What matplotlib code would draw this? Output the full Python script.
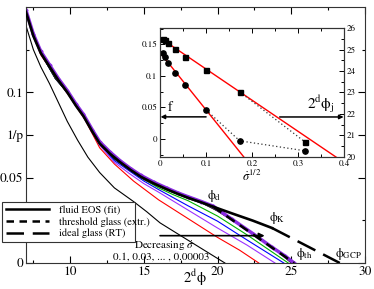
import matplotlib
matplotlib.use('Agg')
import matplotlib.pyplot as plt
from matplotlib.ticker import MultipleLocator, FixedLocator, FixedFormatter
from matplotlib.lines import Line2D

plt.rcParams['font.family'] = ['STIXGeneral', 'DejaVu Serif']
plt.rcParams['mathtext.fontset'] = 'stix'

# ---------------- data (main panel) ----------------
eos_x = [7.0, 7.5, 8.0, 8.6, 9.2, 9.8, 10.4, 10.9, 11.5, 12.0, 12.7, 13.4, 14.1,
         14.8, 15.7, 16.6, 17.3, 18.0, 18.9, 19.7, 21.0, 22.4, 23.7]
eos_y = [0.147, 0.133, 0.123, 0.115, 0.107, 0.100, 0.092, 0.086, 0.077, 0.070,
         0.064, 0.0590, 0.0545, 0.0505, 0.0465, 0.0430, 0.0405, 0.0382, 0.0355,
         0.0330, 0.0290, 0.0248, 0.0205]

thr_x = [19.7, 25.2]
thr_y = [0.0330, 0.0]
ideal_x = [23.7, 28.3]
ideal_y = [0.0205, 0.0]

rate_labels = ['0.1', '0.03', '0.01', '0.003', '0.001', '0.0003', '0.0001', '0.00003']
sim_x = {
    '0.1': [7.0, 7.5, 8.0, 8.6, 9.2, 9.8, 10.5, 11.2, 12.0, 13.0, 14.3, 15.2, 16.1, 17.5, 19.0, 20.5],
    '0.03': [7.0, 8.0, 9.0, 10.0, 11.0, 12.0, 13.0, 14.3, 16.0, 18.0, 20.0, 21.5, 22.8],
    '0.01': [7.0, 8.0, 9.0, 10.0, 11.0, 12.0, 13.0, 14.0, 15.0, 16.0, 18.0, 20.0, 22.0, 23.9],
    '0.003': [7.0, 8.0, 9.0, 10.0, 11.0, 12.0, 13.0, 14.0, 15.0, 16.0, 18.0, 20.0, 22.0, 24.5],
    '0.001': [7.0, 8.0, 9.0, 10.0, 11.0, 12.0, 13.0, 14.0, 15.0, 16.0, 17.0, 18.0, 20.0, 22.0, 24.8],
    '0.0003': [7.0, 8.0, 9.0, 10.0, 11.0, 12.0, 13.0, 14.0, 15.0, 16.0, 17.0, 18.0, 19.0, 20.0, 22.0, 24.0, 25.0],
    '0.0001': [7.0, 8.0, 9.0, 10.0, 11.0, 12.0, 13.0, 14.0, 15.0, 16.0, 17.0, 18.0, 19.0, 19.7, 22.0, 24.0, 25.1],
    '0.00003': [7.0, 7.5, 8.0, 8.6, 9.2, 9.8, 10.4, 10.9, 11.5, 12.0, 12.7, 13.4, 14.1, 14.8,
                15.7, 16.6, 17.3, 18.0, 18.9, 19.7, 21.0, 22.4, 23.7, 24.6, 25.2],
}
sim_y = {
    '0.1': [0.139, 0.125, 0.115, 0.105, 0.094, 0.083, 0.072, 0.062, 0.053, 0.044, 0.036, 0.030, 0.0235, 0.016, 0.008, 0.0],
    '0.03': [0.146, 0.122, 0.109, 0.097, 0.084, 0.0675, 0.058, 0.048, 0.037, 0.026, 0.015, 0.0075, 0.0],
    '0.01': [0.148, 0.123, 0.108, 0.098, 0.085, 0.069, 0.059, 0.0525, 0.0465, 0.0415, 0.031, 0.0205, 0.0105, 0.0],
    '0.003': [0.147, 0.123, 0.108, 0.098, 0.085, 0.070, 0.060, 0.054, 0.048, 0.043, 0.0335, 0.0245, 0.0135, 0.0],
    '0.001': [0.147, 0.123, 0.108, 0.098, 0.085, 0.070, 0.061, 0.055, 0.049, 0.044, 0.040, 0.0365, 0.0275, 0.0165, 0.0],
    '0.0003': [0.147, 0.123, 0.108, 0.098, 0.085, 0.070, 0.061, 0.055, 0.049, 0.045, 0.0413, 0.0378, 0.0348, 0.0305, 0.0195, 0.0075, 0.0],
    '0.0001': [0.147, 0.123, 0.108, 0.098, 0.085, 0.070, 0.061, 0.055, 0.049, 0.045, 0.0415, 0.038, 0.035, 0.032, 0.0198, 0.0078, 0.0],
    '0.00003': [0.148, 0.134, 0.124, 0.116, 0.108, 0.101, 0.093, 0.087, 0.078, 0.071, 0.065, 0.0598,
                0.0553, 0.0513, 0.0472, 0.0437, 0.0411, 0.0388, 0.0360, 0.0333, 0.0255, 0.0172,
                0.0092, 0.0040, 0.0],
}
sim_colors = ['black', 'red', '#9b30ff', 'blue', '#00b000', '#1a1a1a', '#303030', '#8a2be2']

# ---------------- data (inset) ----------------
sqrt_rate = [0.0055, 0.01, 0.0173, 0.0316, 0.0548, 0.1, 0.173, 0.316]
f_vals = [0.136, 0.130, 0.121, 0.104, 0.086, 0.046, -0.003, -0.019]
phij_vals = [25.50, 25.45, 25.29, 25.02, 24.66, 24.06, 23.03, 20.68]
fit_f_x = [0.0, 0.2]
fit_f_y = [0.137, -0.045]
fit_phi_x = [0.0, 0.4]
fit_phi_y = [25.54, 19.74]

# ---------------- figure ----------------
fig = plt.figure(figsize=(3.74, 2.89), dpi=100)
ax = fig.add_axes([0.0695, 0.090, 0.906, 0.886])

for lab, col in zip(rate_labels, sim_colors):
    if lab == '0.00003':
        ax.plot(sim_x[lab], sim_y[lab], color=col, lw=2.5, zorder=2,
                marker='D', markersize=1.5, markevery=1)
    else:
        ax.plot(sim_x[lab], sim_y[lab], color=col, lw=0.8, zorder=2)

ax.plot(eos_x, eos_y, color='black', lw=1.9, zorder=3)
ax.plot(thr_x, thr_y, color='black', lw=1.8, dashes=(4, 2.5), zorder=3)
ax.plot(ideal_x, ideal_y, color='black', lw=1.8, dashes=(8, 3.5), zorder=3)

ax.set_xlim(7, 30)
ax.set_ylim(0, 0.15)
ax.xaxis.set_major_locator(MultipleLocator(5))
ax.xaxis.set_minor_locator(MultipleLocator(2.5))
ax.yaxis.set_major_locator(FixedLocator([0, 0.05, 0.075, 0.1]))
ax.yaxis.set_major_formatter(FixedFormatter(['0', '0.05', '1/p', '0.1']))
ax.yaxis.set_minor_locator(FixedLocator([0.025, 0.125]))
ax.tick_params(which='both', direction='in', top=True, right=True, labelsize=9.5)
ax.tick_params(which='major', length=5, width=0.8)
ax.tick_params(which='minor', length=2.5, width=0.8)
ax.tick_params(axis='y', pad=2)
ax.tick_params(axis='x', pad=2)
ax.set_xlabel(r'$2^{\mathrm{d}}\mathrm{\phi}$', fontsize=10.5, labelpad=-7)
for s in ax.spines.values():
    s.set_linewidth(0.8)
    s.set_color('#333333')

# annotations main
ax.text(19.3, 0.0345, r'$\mathrm{\phi_{d}}$', fontsize=9, ha='left', va='bottom')
ax.text(23.5, 0.0215, r'$\mathrm{\phi_{K}}$', fontsize=9, ha='left', va='bottom')
ax.text(25.3, 0.0005, r'$\mathrm{\phi_{th}}$', fontsize=9, ha='left', va='bottom')
ax.text(28.0, 0.0005, r'$\mathrm{\phi_{GCP}}$', fontsize=9, ha='left', va='bottom')
ax.annotate('', xy=(23.2, 0.0160), xytext=(16.1, 0.0160),
            arrowprops=dict(arrowstyle='-|>', color='black', lw=1.2,
                            mutation_scale=8, shrinkA=0, shrinkB=0), zorder=6)
ax.text(16.4, 0.0100, r'Decreasing $\dot{\sigma}$', fontsize=8, ha='center', va='center')
ax.text(16.2, 0.0036, '0.1, 0.03, ... , 0.00003', fontsize=8, ha='center', va='center')

handles = [Line2D([], [], color='black', lw=1.8),
           Line2D([], [], color='black', lw=1.8, dashes=(3, 2.2)),
           Line2D([], [], color='black', lw=1.8, dashes=(7, 3.5))]
labels = ['fluid EOS (fit)', 'threshold glass (extr.)', 'ideal glass (RT)']
leg = ax.legend(handles, labels, loc='lower left',
                bbox_to_anchor=(0.005, 0.163, 0.356, 0.131),
                bbox_transform=fig.transFigure, mode='expand',
                fontsize=7.5, frameon=True, fancybox=False, edgecolor='#333333',
                framealpha=1, handlelength=4.2, handletextpad=0.9,
                borderpad=0.35, labelspacing=0.2, borderaxespad=0)
leg.get_frame().set_linewidth(0.8)
leg.set_zorder(10)

# ---------------- inset ----------------
ax2 = fig.add_axes([0.428, 0.457, 0.492, 0.446])
ax3 = ax2.twinx()
ax2.set_xlim(0, 0.4)
ax2.set_ylim(-0.0286, 0.176)
ax3.set_ylim(20, 26)

ax2.plot(fit_f_x, fit_f_y, color='red', lw=1.0, zorder=2)
ax3.plot(fit_phi_x, fit_phi_y, color='red', lw=1.0, zorder=2)
ax2.plot(sqrt_rate[5:], f_vals[5:], color='#333333', lw=0.9, ls=(0, (1, 2)), zorder=2)
ax3.plot(sqrt_rate[6:], phij_vals[6:], color='#333333', lw=0.9, ls=(0, (1, 2)), zorder=2)
ax2.plot(sqrt_rate, f_vals, 'o', color='black', markersize=3.8, zorder=3)
ax3.plot(sqrt_rate, phij_vals, 's', color='black', markersize=3.6, zorder=3)

ax2.annotate('', xy=(0.001, 0.035), xytext=(0.1, 0.035),
             arrowprops=dict(arrowstyle='-|>', color='black', lw=1.1,
                             mutation_scale=6, shrinkA=0, shrinkB=0))
ax2.text(0.022, 0.040, 'f', fontsize=10, ha='center', va='bottom')
ax3.annotate('', xy=(0.399, 21.86), xytext=(0.26, 21.86),
             arrowprops=dict(arrowstyle='-|>', color='black', lw=1.1,
                             mutation_scale=6, shrinkA=0, shrinkB=0))
ax3.text(0.35, 21.95, r'$2^{\mathrm{d}}\mathrm{\phi_{j}}$', fontsize=11, ha='center', va='bottom')

ax2.xaxis.set_major_locator(MultipleLocator(0.1))
ax2.xaxis.set_minor_locator(MultipleLocator(0.05))
ax2.yaxis.set_major_locator(MultipleLocator(0.05))
ax2.yaxis.set_minor_locator(MultipleLocator(0.025))
ax2.xaxis.set_major_formatter(FixedFormatter(['', '0', '0.1', '0.2', '0.3', '0.4']))
ax2.yaxis.set_major_formatter(FixedFormatter(['', '0', '0.05', '0.1', '0.15']))
ax3.yaxis.set_major_locator(MultipleLocator(1))
ax3.yaxis.set_minor_locator(MultipleLocator(0.5))
ax2.tick_params(which='both', direction='in', top=True, labelsize=6.5, pad=2)
ax2.tick_params(which='major', length=3.5, width=0.7)
ax2.tick_params(which='minor', length=2, width=0.7)
ax3.tick_params(which='both', direction='in', labelsize=6.5, pad=2)
ax3.tick_params(which='major', length=3.5, width=0.7)
ax3.tick_params(which='minor', length=2, width=0.7)
ax2.set_xlabel(r'$\dot{\sigma}^{1/2}$', fontsize=9, labelpad=1)
for a in (ax2, ax3):
    for s in a.spines.values():
        s.set_linewidth(0.8)
        s.set_color('#333333')

fig.savefig('out.png', dpi=100)
